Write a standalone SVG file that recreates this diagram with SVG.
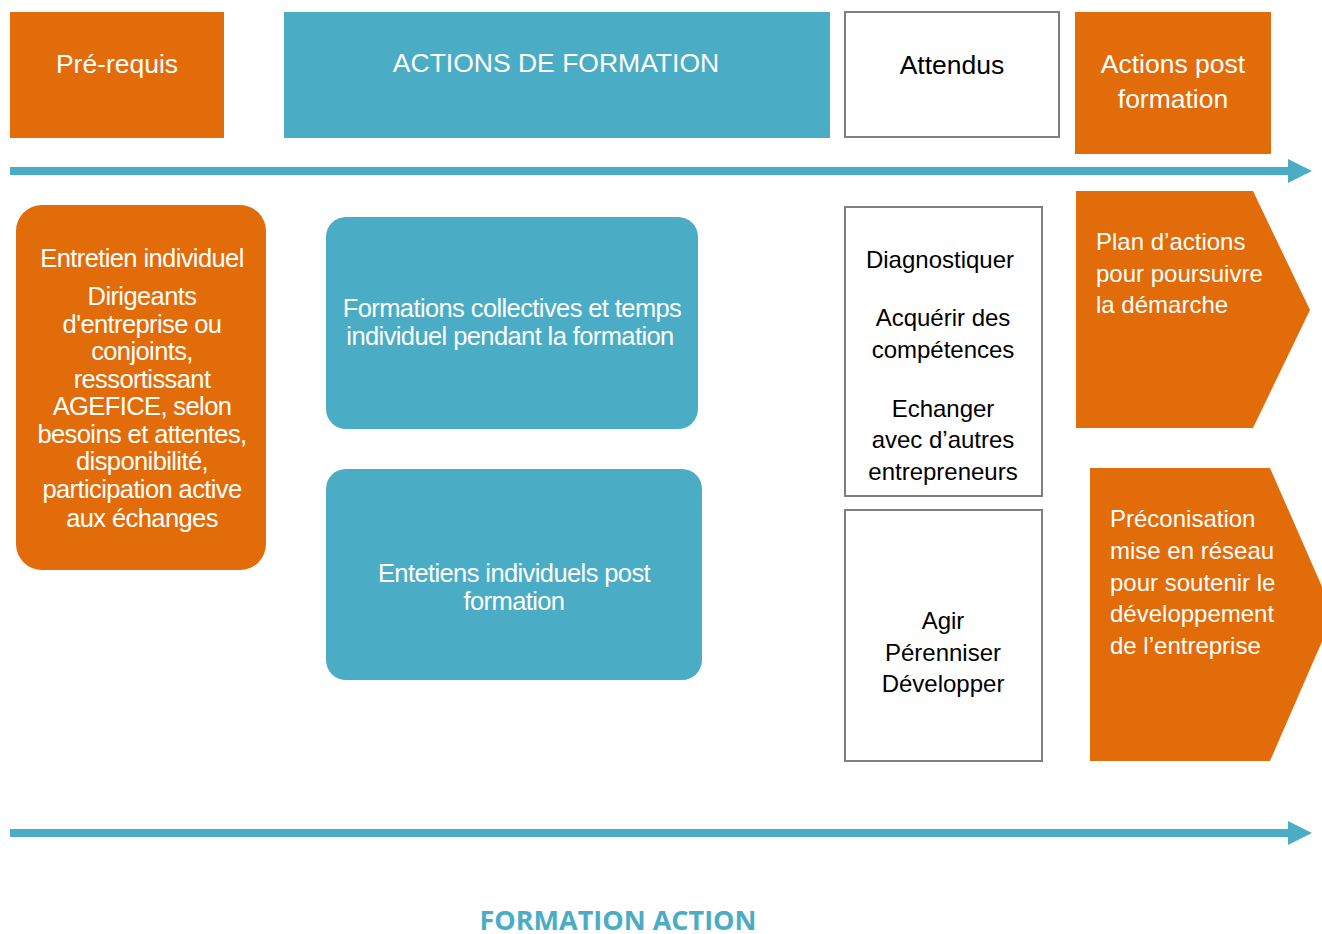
<svg xmlns="http://www.w3.org/2000/svg" width="1322" height="934" viewBox="0 0 1322 934">
<style>
.or{fill:#E36C0A}
.bl{fill:#4BACC6}
.wb{fill:#fff;stroke:#7f7f7f;stroke-width:2}
text{font-family:"Liberation Sans",Arial,sans-serif}
.h{font-size:26.5px;fill:#fff;text-anchor:middle}
.hk{font-size:26.5px;fill:#000;text-anchor:middle}
.c{font-size:25.5px;fill:#fff;text-anchor:middle;letter-spacing:-0.6px}
.k{font-size:24px;fill:#000;text-anchor:middle}
.w{font-size:24px;fill:#fff}
.t{font-family:"Open Sans",sans-serif;font-weight:bold;font-size:27px;fill:#4BACC6;text-anchor:middle}
</style>
<g id="connectors">
<rect class="bl" x="10" y="167" width="1280" height="8"/>
<polygon class="bl" points="1288,159 1312,171 1288,183"/>
<rect class="bl" x="10" y="829" width="1280" height="8"/>
<polygon class="bl" points="1288,821 1312,833 1288,845"/>
</g>
<g id="prerequis"><rect class="or" x="10" y="12" width="214" height="126"/><text class="h" x="117" y="73">Pré-requis</text></g>
<g id="actions"><rect class="bl" x="284" y="12" width="546" height="126"/><text class="h" x="556" y="72">ACTIONS DE FORMATION</text></g>
<g id="attendus"><rect class="wb" x="845" y="12" width="214" height="125"/><text class="hk" x="952" y="74">Attendus</text></g>
<g id="post"><rect class="or" x="1075" y="12" width="196" height="142"/><text class="h" x="1173" y="73">Actions post</text><text class="h" x="1173" y="108">formation</text></g>
<g id="entretien"><rect class="or" x="16" y="205" width="250" height="365" rx="26"/>
<text class="c" x="142" y="267">Entretien individuel</text>
<text class="c" x="142" y="305">Dirigeants</text>
<text class="c" x="142" y="333">d'entreprise ou</text>
<text class="c" x="142" y="360">conjoints,</text>
<text class="c" x="142" y="388">ressortissant</text>
<text class="c" x="142" y="415">AGEFICE, selon</text>
<text class="c" x="142" y="443">besoins et attentes,</text>
<text class="c" x="142" y="470">disponibilité,</text>
<text class="c" x="142" y="498">participation active</text>
<text class="c" x="142" y="527">aux échanges</text>
</g>
<g id="formations"><rect class="bl" x="326" y="217" width="372" height="212" rx="20"/>
<text class="c" x="512" y="317">Formations collectives et temps</text>
<text class="c" x="510" y="345">individuel pendant la formation</text></g>
<g id="entretiens-post"><rect class="bl" x="326" y="469" width="376" height="211" rx="20"/>
<text class="c" x="514" y="582">Entetiens individuels post</text>
<text class="c" x="514" y="610">formation</text></g>
<g id="attendus1"><rect class="wb" x="845" y="207" width="197" height="289"/>
<text class="k" x="940" y="268">Diagnostiquer</text>
<text class="k" x="943" y="326">Acquérir des</text>
<text class="k" x="943" y="358">compétences</text>
<text class="k" x="943" y="417">Echanger</text>
<text class="k" x="943" y="448">avec d’autres</text>
<text class="k" x="943" y="480">entrepreneurs</text></g>
<g id="attendus2"><rect class="wb" x="845" y="510" width="197" height="251"/>
<text class="k" x="943" y="629">Agir</text>
<text class="k" x="943" y="661">Pérenniser</text>
<text class="k" x="943" y="692">Développer</text></g>
<g id="plan"><polygon class="or" points="1076,191 1253,191 1310,310 1253,428 1076,428"/>
<text class="w" x="1096" y="250">Plan d’actions</text>
<text class="w" x="1096" y="282">pour poursuivre</text>
<text class="w" x="1096" y="313">la démarche</text></g>
<g id="preco"><polygon class="or" points="1090,468 1270,468 1334,614 1270,761 1090,761"/>
<text class="w" x="1110" y="527">Préconisation</text>
<text class="w" x="1110" y="559">mise en réseau</text>
<text class="w" x="1110" y="591">pour soutenir le</text>
<text class="w" x="1110" y="622">développement</text>
<text class="w" x="1110" y="654">de l’entreprise</text></g>
<text class="t" x="618" y="930">FORMATION ACTION</text>
</svg>
